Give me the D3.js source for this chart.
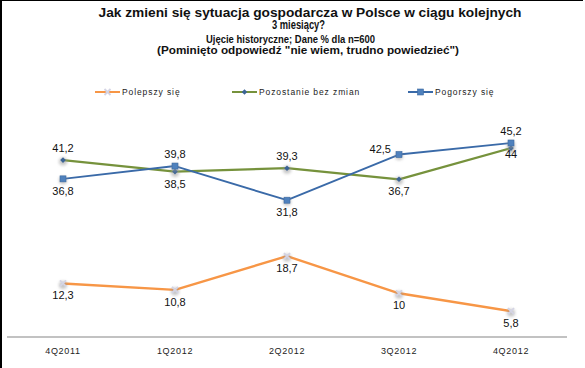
<!DOCTYPE html>
<html><head><meta charset="utf-8">
<script src="https://cdn.jsdelivr.net/npm/d3@7"></script>
<style>
html,body{margin:0;padding:0;background:#fff;}
svg{display:block;font-family:"Liberation Sans",Arial,sans-serif;}
</style></head>
<body>
<svg id="chart" width="585" height="368"></svg>
<script>
const categories = ["4Q2011","1Q2012","2Q2012","3Q2012","4Q2012"];
const seriesNames = ["Polepszy się","Pozostanie bez zmian","Pogorszy się"];
const polepszy = [12.3,10.8,18.7,10,5.8];
const bezZmian = [41.2,38.5,39.3,36.7,44];
const pogorszy = [36.8,39.8,31.8,42.5,45.2];
const titleLines = [
  "Jak zmieni się sytuacja gospodarcza  w Polsce w ciągu kolejnych",
  "3 miesiący?",
  "Ujęcie historyczne; Dane % dla n=600",
  "(Pominięto odpowiedź  \"nie wiem, trudno powiedzieć\")"
];
// label placement per point: a = above, b = below, l = above-left
const posPolepszy = ["b","b","b","b","b"];
const posBez = ["a","b","a","b","b"];
const posPog = ["b","a","b","l","a"];

const svg = d3.select("#chart");
const fmt = v => String(v).replace(".", ",");

// frame (top and left edges)
svg.append("line").attr("x1",0).attr("x2",583).attr("y1",0.5).attr("y2",0.5).attr("stroke","#000").attr("stroke-width",1);
svg.append("line").attr("x1",1).attr("x2",1).attr("y1",0).attr("y2",368).attr("stroke","#000").attr("stroke-width",2);

// title
const tstyle = [
  {x:310,y:16.5,size:12,len:423},
  {x:298.5,y:29,size:12,len:53},
  {x:290.5,y:42.5,size:10.5,len:169},
  {x:308,y:53.5,size:10,len:302}
];
titleLines.forEach((t,i)=>{
  svg.append("text").attr("x",tstyle[i].x).attr("y",tstyle[i].y)
    .attr("text-anchor","middle").attr("font-weight","bold")
    .attr("font-size",tstyle[i].size).attr("fill","#111")
    .attr("textLength",tstyle[i].len).attr("lengthAdjust","spacingAndGlyphs")
    .text(t);
});

const x = d3.scaleBand().domain(categories).range([7,567]).padding(0);
const cx = c => x(c) + x.bandwidth()/2;
const y = d3.scaleLinear().domain([0,50]).range([336,122.5]);

// blur filter for marker glow
const defs = svg.append("defs");
defs.append("filter").attr("id","glow").attr("x","-100%").attr("y","-100%").attr("width","300%").attr("height","300%")
  .append("feGaussianBlur").attr("stdDeviation",1.8);

// axis
const axisG = svg.append("g").attr("transform","translate(0,337)")
  .call(d3.axisBottom(x).tickSize(0).tickPadding(11));
axisG.select(".domain").remove();
axisG.append("line").attr("x1",7).attr("x2",567).attr("y1",0).attr("y2",0).attr("stroke","#868686").attr("stroke-width",1.2);
axisG.selectAll("text").attr("font-family","Liberation Sans, Arial, sans-serif")
  .attr("font-size",9).attr("font-weight","normal").attr("fill","#222").attr("letter-spacing","0.7px");

const series = [
  {name:seriesNames[0], vals:polepszy, pos:posPolepszy, color:"#f79646", width:2.4, marker:"x", mcolor:"#d4d4e4"},
  {name:seriesNames[1], vals:bezZmian, pos:posBez, color:"#76923c", width:2.3, marker:"diamond", mcolor:"#3c6496"},
  {name:seriesNames[2], vals:pogorszy, pos:posPog, color:"#3a6aa8", width:1.9, marker:"square", mcolor:"#4f81bd"}
];

function drawMarker(g, type, color, px, py, glow){
  if (glow) {
    g.append("circle").attr("cx",px).attr("cy",py+1.5).attr("r",4).attr("fill","#9a9a9a").attr("opacity",0.55).attr("filter","url(#glow)");
  }
  if (type==="x") {
    const s=3;
    g.append("path").attr("d",`M${px-s},${py-s}L${px+s},${py+s}M${px-s},${py+s}L${px+s},${py-s}`)
      .attr("stroke",color).attr("stroke-width",1.8);
  } else if (type==="diamond") {
    const s=2.8;
    g.append("path").attr("d",`M${px},${py-s}L${px+s},${py}L${px},${py+s}L${px-s},${py}Z`).attr("fill",color);
  } else {
    const s=3;
    g.append("rect").attr("x",px-s).attr("y",py-s).attr("width",2*s).attr("height",2*s)
      .attr("fill",color).attr("stroke","#3d6aa0").attr("stroke-width",0.6);
  }
}

const line = d3.line().x((d,i)=>cx(categories[i])).y(d=>y(d));
series.forEach(s=>{
  const g = svg.append("g");
  g.append("path").datum(s.vals).attr("d",line).attr("fill","none")
    .attr("stroke",s.color).attr("stroke-width",s.width).attr("stroke-linejoin","round");
  s.vals.forEach((v,i)=>drawMarker(g,s.marker,s.mcolor,cx(categories[i]),y(v),true));
});

// data labels
series.forEach(s=>{
  s.vals.forEach((v,i)=>{
    const px = cx(categories[i]), py = y(v);
    let tx = px, ty, anchor = "middle";
    if (s.pos[i]==="a") ty = py - 8;
    else if (s.pos[i]==="b") ty = py + 16;
    else { tx = px - 8; ty = py - 1.5; anchor = "end"; }
    if (s.vals === bezZmian && i===4) ty = py + 10;
    svg.append("text").attr("x",tx).attr("y",ty).attr("text-anchor",anchor)
      .attr("font-size",11).attr("fill","#111").text(fmt(v));
  });
});

// legend
const legendX = [95,232,408];
const legendY = 92;
series.forEach((s,i)=>{
  const g = svg.append("g");
  const lx = legendX[i];
  g.append("line").attr("x1",lx).attr("x2",lx+25).attr("y1",legendY).attr("y2",legendY)
    .attr("stroke",s.color).attr("stroke-width",2);
  drawMarker(g,s.marker,s.mcolor,lx+12.5,legendY,false);
  g.append("text").attr("x",lx+27).attr("y",legendY+3.2).attr("font-size",8.5)
    .attr("letter-spacing","0.9px").attr("fill","#222").text(s.name);
});
</script>
</body></html>
